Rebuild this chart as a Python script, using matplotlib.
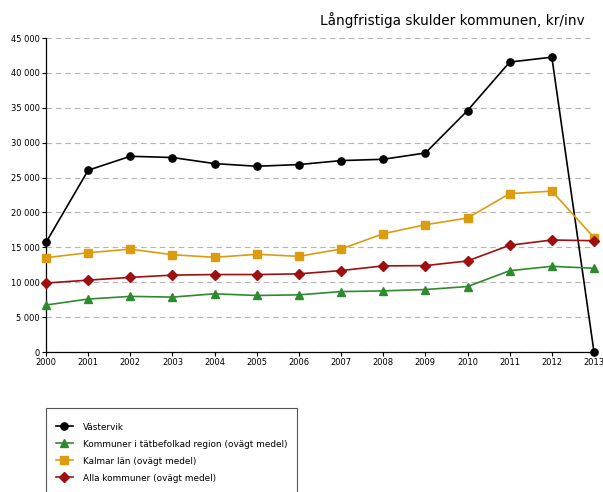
import numpy as np
import matplotlib.pyplot as plt
from matplotlib.patches import Rectangle
from matplotlib.ticker import FuncFormatter

years = list(range(2000, 2014))

vastervik = [15700, 26050, 28050, 27870, 27000, 26620, 26860, 27430, 27620, 28520,
             34600, 41550, 42250, 0]
tatbefolkad = [6730, 7590, 7970, 7870, 8340, 8100, 8190, 8660, 8760, 8950,
               9380, 11650, 12280, 12000]
kalmar = [13510, 14230, 14740, 13940, 13570, 14000, 13710, 14760, 16950, 18240,
          19200, 22700, 23050, 16400]
alla = [9880, 10300, 10690, 11020, 11100, 11100, 11200, 11670, 12340, 12380,
        13050, 15300, 16050, 15950]

labels = ['Västervik',
          'Kommuner i tätbefolkad region (ovägt medel)',
          'Kalmar län (ovägt medel)',
          'Alla kommuner (ovägt medel)']
title = 'Långfristiga skulder kommunen, kr/inv'

W, H = 603, 492
fig = plt.figure(figsize=(W/100, H/100), dpi=100)
ax = fig.add_axes([46/W, 1-352/H, (594-46)/W, (352-38)/H])

series = [(vastervik, '#000000', 'o'),
          (tatbefolkad, '#2e8a2e', '^'),
          (kalmar, '#dc9c12', 's'),
          (alla, '#9e1010', 'D')]
handles = []
for (vals, col, mk), lab in zip(series, labels):
    ms = 5.2 if mk != 'D' else 4.6
    h, = ax.plot(years, vals, color=col, marker=mk, markersize=ms, lw=1.2,
                 clip_on=False, zorder=3, label=lab)
    handles.append(h)

ax.set_xlim(2000, 2013)
ax.set_ylim(0, 45000)
ax.set_xticks(years)
ax.set_yticks(np.arange(0, 45001, 5000))
ax.yaxis.set_major_formatter(FuncFormatter(lambda v, p: f'{int(v):,}'.replace(',', ' ')))
ax.tick_params(labelsize=6, length=3, width=0.8, pad=1.5)
for s in ['top', 'right']:
    ax.spines[s].set_visible(False)
for s in ['left', 'bottom']:
    ax.spines[s].set_linewidth(0.9)
ax.grid(axis='y', color='#b4b4b4', linestyle=(0, (5, 3.5)), lw=0.8)
ax.set_axisbelow(True)

fig.text(585/W, 1-20/H, title, ha='right', va='center', fontsize=9.8)

# legend box, open at bottom of the picture
fig.patches.append(Rectangle((46/W, -0.02), (297-46)/W, 0.02 + (492-408)/H,
                             transform=fig.transFigure, fill=False,
                             edgecolor='#555555', lw=0.8))
fig.legend(handles=handles, loc='upper left', bbox_to_anchor=(52/W, 1-419/H),
           frameon=False, fontsize=6.4, handlelength=2.0, handletextpad=1.1,
           labelspacing=0.9, borderaxespad=0)

fig.savefig('out.png', dpi=100)
